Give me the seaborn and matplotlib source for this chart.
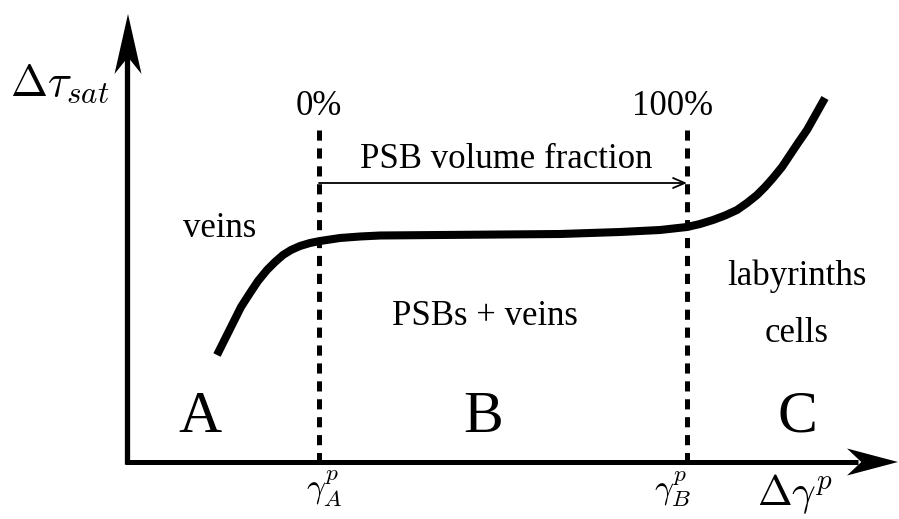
import numpy as np
import pandas as pd
import matplotlib
matplotlib.use('Agg')
import matplotlib.pyplot as plt
from matplotlib.patches import Polygon
import seaborn as sns

# кривая насыщения (координаты, пиксели, y вниз)
curve_x = [217, 225, 233, 241, 250, 258, 267, 275, 283, 291, 300, 310, 320, 330, 340,
           360, 380, 440, 500, 560, 620, 660, 687, 700, 713, 725, 737, 747, 757, 765,
           773, 782, 790, 798, 807, 816, 825]
curve_y = [355, 339, 323, 307, 293, 281, 270, 262, 255, 250, 246, 243, 241, 239.5, 238,
           236.5, 235.5, 235, 234.5, 234, 232, 230, 227, 224, 220, 215.5, 210, 203, 195, 187,
           178, 167, 155, 143, 130, 114, 98]

# границы областей
gamma_A_x = 319
gamma_B_x = 687
dash_top = 130

# оси
origin_x, origin_y = 127, 462
y_tip = 14
x_tip = 898

region_letters = ['A', 'B', 'C']
region_letter_x = [200, 483, 797]

sns.set_theme(style='white')
plt.rcParams['font.family'] = ['Liberation Serif', 'DejaVu Serif']
plt.rcParams['mathtext.fontset'] = 'cm'
plt.rcParams['lines.scale_dashes'] = False
plt.rcParams['text.color'] = 'black'

fig = plt.figure(figsize=(8.99, 5.19), dpi=100)
ax = fig.add_axes([0, 0, 1, 1])


def stealth(tip, direction, length, half_w, notch):
    tx, ty = tip
    dx, dy = direction
    px, py = -dy, dx
    bx, by = tx - dx * length, ty - dy * length
    nx, ny = tx - dx * length * (1 - notch), ty - dy * length * (1 - notch)
    pts = [(tx, ty), (bx + px * half_w, by + py * half_w), (nx, ny),
           (bx - px * half_w, by - py * half_w)]
    ax.add_patch(Polygon(pts, closed=True, color='black', lw=0, zorder=5))


# оси со стрелками
ax.plot([origin_x, origin_x], [origin_y + 2, y_tip + 40], color='black', lw=3.8,
        solid_capstyle='butt')
ax.plot([origin_x - 2, x_tip - 40], [origin_y, origin_y], color='black', lw=3.6,
        solid_capstyle='butt')
stealth((origin_x + 1, y_tip), (0, -1), 60, 13.5, 0.28)
stealth((x_tip, origin_y), (1, 0), 51, 13.5, 0.28)

# пунктирные линии
for gx in [gamma_A_x, gamma_B_x]:
    ax.plot([gx, gx], [dash_top, origin_y], color='black', lw=3.6,
            linestyle=(0, (7.3, 5.6)), solid_capstyle='butt', dash_capstyle='butt')

# кривая
df = pd.DataFrame({'x': curve_x, 'y': curve_y})
sns.lineplot(data=df, x='x', y='y', sort=False, color='black', lw=5.8, ax=ax,
             estimator=None)
ax.lines[-1].set_solid_capstyle('butt')
ax.lines[-1].set_solid_joinstyle('round')
ax.set_xlim(0, 899)
ax.set_ylim(519, 0)
ax.axis('off')

# стрелка доли PSB
ax.annotate('', xy=(gamma_B_x, 183), xytext=(gamma_A_x, 183),
            arrowprops=dict(arrowstyle='->,head_length=0.7,head_width=0.3',
                            lw=1.3, color='black', shrinkA=0, shrinkB=0))

fs = 25
ax.text(gamma_A_x, 115, '0%', ha='center', va='baseline', fontsize=fs)
ax.text(673, 115, '100%', ha='center', va='baseline', fontsize=fs)
ax.text(506, 168, 'PSB volume fraction', ha='center', va='baseline', fontsize=fs)
ax.text(220, 237, 'veins', ha='center', va='baseline', fontsize=fs)
ax.text(485, 325, 'PSBs + veins', ha='center', va='baseline', fontsize=fs)
ax.text(797, 285, 'labyrinths', ha='center', va='baseline', fontsize=fs)
ax.text(797, 342, 'cells', ha='center', va='baseline', fontsize=fs)

for letter, lx in zip(region_letters, region_letter_x):
    ax.text(lx, 432, letter, ha='center', va='baseline', fontsize=43)

ax.text(10, 95, r'$\Delta\tau_{sat}$', ha='left', va='baseline', fontsize=32)
ax.text(757, 505, r'$\Delta\gamma^{p}$', ha='left', va='baseline', fontsize=30)
ax.text(324, 498, r'$\gamma_{A}^{p}$', ha='center', va='baseline', fontsize=24)
ax.text(672, 498, r'$\gamma_{B}^{p}$', ha='center', va='baseline', fontsize=24)

fig.savefig('out.png', dpi=100)
